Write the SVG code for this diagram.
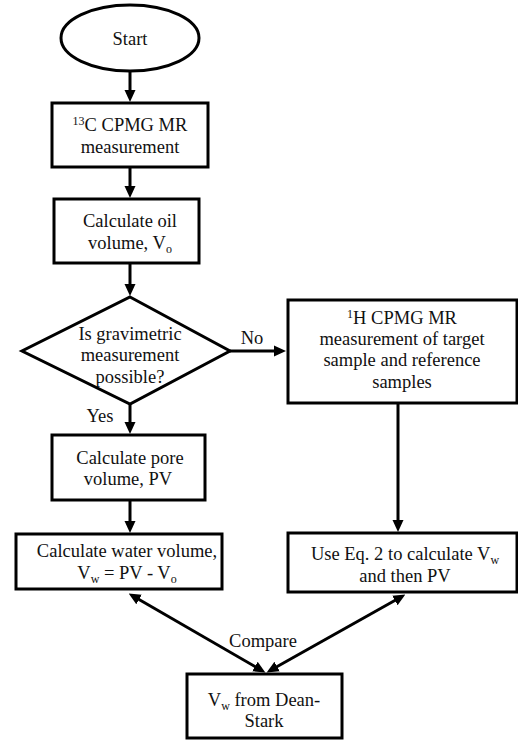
<svg xmlns="http://www.w3.org/2000/svg" width="518" height="740" viewBox="0 0 518 740" font-family="'Liberation Serif', 'DejaVu Serif', serif">
<defs>
<marker id="ah" markerUnits="userSpaceOnUse" markerWidth="12" markerHeight="12" viewBox="0 0 12 12" refX="7" refY="6" orient="auto-start-reverse">
<path d="M0,0.5 L12,6 L0,11.5 z" fill="#000"/>
</marker>
<style>
.n{fill:#fff;stroke:#000;stroke-width:3}
.t{font-family:'Liberation Serif','DejaVu Serif',serif;font-size:18.5px;fill:#111;text-anchor:middle}
.c line{stroke:#000;stroke-width:3;fill:none}
.c .a{marker-end:url(#ah)}
.c .d{marker-start:url(#ah);marker-end:url(#ah)}
.s{font-size:12px}
</style>
</defs>
<g class="c" id="connectors">
<line class="a" x1="130" y1="72" x2="130" y2="97"/>
<line class="a" x1="130" y1="167" x2="130" y2="193"/>
<line class="a" x1="130" y1="263" x2="130" y2="291"/>
<line class="a" x1="130" y1="404" x2="130" y2="429"/>
<line class="a" x1="130" y1="500" x2="130" y2="528"/>
<line class="a" x1="230" y1="351" x2="281" y2="351"/>
<line class="a" x1="398" y1="403" x2="398" y2="527"/>
<line class="d" x1="133" y1="596" x2="261" y2="670"/>
<line class="d" x1="401" y1="597" x2="271" y2="670"/>
<text class="t" x="100" y="422">Yes</text>
<text class="t" x="252" y="344">No</text>
<text class="t" x="263" y="647">Compare</text>
</g>
<g id="start">
<ellipse class="n" cx="130" cy="38" rx="69" ry="33"/>
<text class="t" x="130" y="45">Start</text>
</g>
<g id="c13">
<rect class="n" x="52" y="103" width="156" height="64"/>
<text class="t" x="130" y="131"><tspan class="s" dy="-6">13</tspan><tspan dy="6">C CPMG MR</tspan></text>
<text class="t" x="130" y="153">measurement</text>
</g>
<g id="oil">
<rect class="n" x="54" y="199" width="145" height="64"/>
<text class="t" x="130" y="227">Calculate oil</text>
<text class="t" x="130" y="249">volume, V<tspan class="s" dy="4">o</tspan></text>
</g>
<g id="decision">
<polygon class="n" points="130,297 230,351 130,404 22,351"/>
<text class="t" x="130" y="340">Is gravimetric</text>
<text class="t" x="130" y="361">measurement</text>
<text class="t" x="130" y="383">possible?</text>
</g>
<g id="pore">
<rect class="n" x="52" y="435" width="153" height="65"/>
<text class="t" x="130" y="464">Calculate pore</text>
<text class="t" x="128" y="485">volume, PV</text>
</g>
<g id="water">
<rect class="n" x="16" y="534" width="206" height="55"/>
<text class="t" x="127" y="557">Calculate water volume,</text>
<text class="t" x="127" y="579">V<tspan class="s" dy="4">w</tspan><tspan dy="-4"> = PV - V</tspan><tspan class="s" dy="4">o</tspan></text>
</g>
<g id="h1">
<rect class="n" x="288" y="300" width="229" height="103"/>
<text class="t" x="402" y="324"><tspan class="s" dy="-6">1</tspan><tspan dy="6">H CPMG MR</tspan></text>
<text class="t" x="402" y="345">measurement of target</text>
<text class="t" x="402" y="366">sample and reference</text>
<text class="t" x="402" y="388">samples</text>
</g>
<g id="eq2">
<rect class="n" x="288" y="533" width="229" height="59"/>
<text class="t" x="405" y="560">Use Eq. 2 to calculate V<tspan class="s" dy="4">w</tspan></text>
<text class="t" x="405" y="582">and then PV</text>
</g>
<g id="dean">
<rect class="n" x="187" y="674" width="155" height="64"/>
<text class="t" x="264" y="706">V<tspan class="s" dy="4">w</tspan><tspan dy="-4"> from Dean-</tspan></text>
<text class="t" x="264" y="727">Stark</text>
</g>
</svg>
